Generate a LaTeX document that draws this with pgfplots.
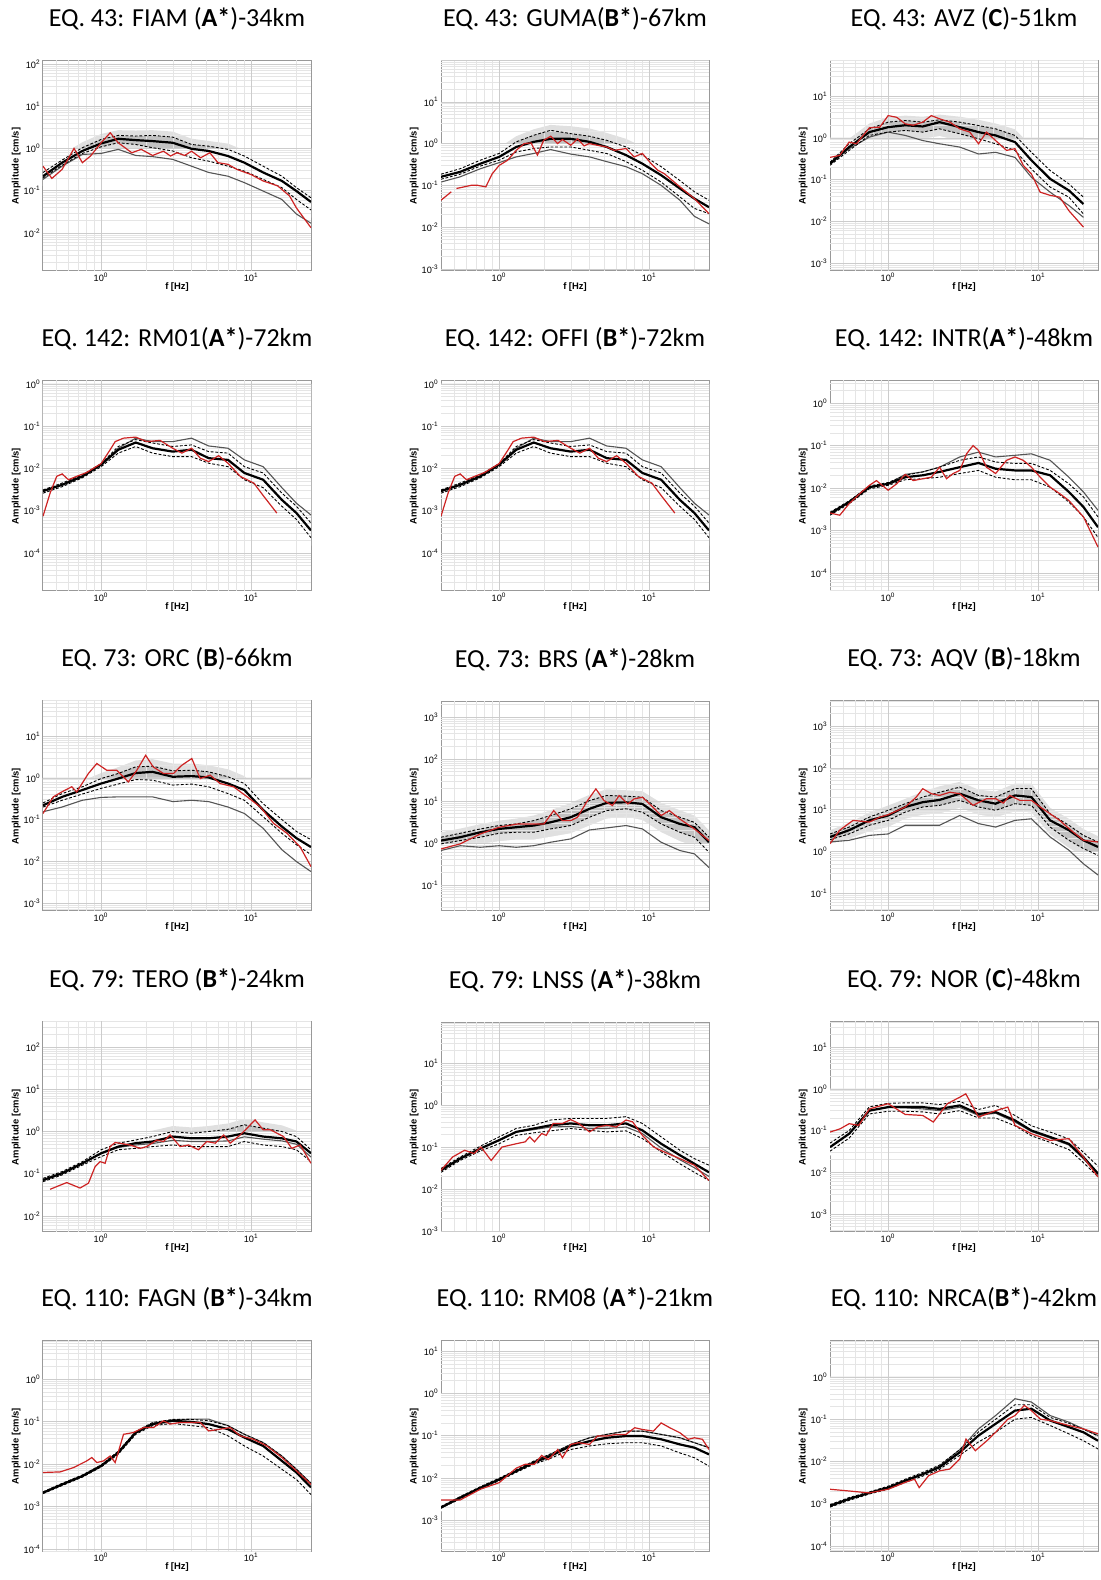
\documentclass[border=0pt]{standalone}
\usepackage{fontspec}
\setmainfont{Carlito}
\newfontfamily\helv{Liberation Sans}
\usepackage{pgfplots}
\usepackage{pgfplotstable}
\pgfplotsset{compat=1.18}
\definecolor{rd}{RGB}{205,35,35}
\definecolor{dg}{RGB}{85,85,85}
\newcommand{\tkf}{\helv\fontsize{4.6}{5.5}\selectfont}
\newcommand{\lbf}{\helv\bfseries\fontsize{4.7}{5.5}\selectfont}
\newcommand{\ttf}{\fontsize{13}{15}\selectfont}
\newcommand{\mytl}{10\textsuperscript{\pgfmathparse{int(round(\tick))}\pgfmathresult}}
\tikzset{
 grl/.style={dg,line width=0.55pt},
 dsh/.style={black,line width=0.45pt,dash pattern=on 1.4pt off 0.9pt},
 mnl/.style={black,line width=1.1pt},
 rdl/.style={rd,line width=0.6pt},
 gmaj/.style={black!20,line width=0.3pt},
 gmin/.style={black!10,line width=0.25pt},
}
\newcommand{\pan}[5]{\begin{axis}[
 xmode=log, ymode=log, log basis x=10, log basis y=10,
 xmin=0.41, xmax=25, ymin=#3, ymax=#4,
 xtick={1,10}, ytick={1e-5,1e-4,0.001,0.01,0.1,1,10,100,1000},
 major tick length=0pt, minor tick length=0pt,
 axis line style={black!40,line width=0.5pt},
 xticklabel={\mytl}, yticklabel={\mytl},
 xticklabel style={font=\tkf,inner sep=1pt},
 yticklabel style={font=\tkf,inner sep=1pt},
 xlabel={f [Hz]}, ylabel={Amplitude [cm/s]},
 xlabel style={at={(axis description cs:0.5,-0.076)},anchor=center,font=\lbf},
 ylabel style={at={(axis description cs:-0.1,0.5)},anchor=center,font=\lbf},
 title style={at={(axis description cs:0.5,1)},anchor=base,yshift=11pt,font=\ttf},
 title={#5},
 scale only axis, width=134pt, height=105pt,
 at={(#1,#2)}, anchor=south west]}
\newcommand{\std}[1]{%
 \addplot[fill=black!12,draw=none] table[x=f,y=bu]{#1} \closedcycle;
 \addplot[fill=black!24,draw=none] table[x=f,y=u]{#1} \closedcycle;
 \addplot[fill=black!12,draw=none] table[x=f,y=l]{#1} \closedcycle;
 \addplot[fill=white,draw=none] table[x=f,y=bl]{#1} \closedcycle;
 \pgfplotsinvokeforeach{2e-5,3e-5,4e-5,5e-5,6e-5,7e-5,8e-5,9e-5,2e-4,3e-4,4e-4,5e-4,6e-4,7e-4,8e-4,9e-4,0.002,0.003,0.004,0.005,0.006,0.007,0.008,0.009,0.02,0.03,0.04,0.05,0.06,0.07,0.08,0.09,0.2,0.3,0.4,0.5,0.6,0.7,0.8,0.9,2,3,4,5,6,7,8,9,20,30,40,50,60,70,80,90,200,300,400,500,600,700,800,900,2000,3000,4000,5000,6000,7000,8000,9000}{\addplot[gmin] coordinates {(0.41,##1) (25,##1)};}
 \pgfplotsinvokeforeach{0.5,0.6,0.7,0.8,0.9,2,3,4,5,6,7,8,9,20}{\addplot[gmin] coordinates {(##1,1e-6) (##1,1e4)};}
 \pgfplotsinvokeforeach{1e-5,1e-4,0.001,0.01,0.1,1,10,100,1000}{\addplot[gmaj] coordinates {(0.41,##1) (25,##1)};}
 \pgfplotsinvokeforeach{1,10}{\addplot[gmaj] coordinates {(##1,1e-6) (##1,1e4)};}
 \addplot[grl] table[x=f,y=g]{#1};
 \addplot[dsh] table[x=f,y=u]{#1};
 \addplot[dsh] table[x=f,y=l]{#1};
 \addplot[mnl] table[x=f,y=m]{#1};
}
\pgfplotstableread{
f m u l g bu bl
0.41 0.22 0.27 0.20 0.185 0.36 0.13
0.55 0.46 0.53 0.40 0.38 0.72 0.27
0.75 0.87 1.04 0.76 0.72 1.4 0.5
1 1.31 1.63 1.09 0.76 2.2 0.73
1.3 1.69 2.03 1.36 0.95 2.7 0.9
1.7 1.57 1.96 1.24 0.68 2.65 0.83
2.2 1.49 2.03 1.04 0.64 2.7 0.7
3 1.36 1.85 0.87 0.55 2.5 0.58
4 0.98 1.24 0.60 0.38 1.7 0.4
5.2 0.87 1.13 0.50 0.27 1.5 0.33
7 0.66 0.95 0.38 0.22 1.3 0.25
9 0.46 0.66 0.29 0.155 0.9 0.19
12 0.27 0.38 0.185 0.098 0.52 0.12
16 0.17 0.22 0.118 0.062 0.3 0.079
20 0.098 0.118 0.062 0.028 0.16 0.041
25 0.054 0.068 0.035 0.017 0.092 0.023
}\tA
\pgfplotstableread{
f m u l g bu bl
0.41 0.16 0.185 0.14 0.12 0.22 0.11
0.55 0.21 0.25 0.185 0.16 0.3 0.15
0.75 0.33 0.40 0.29 0.25 0.5 0.22
1 0.48 0.58 0.40 0.35 0.8 0.3
1.3 0.83 1.1 0.63 0.48 1.5 0.45
1.7 1.1 1.58 0.76 0.58 2.2 0.55
2.2 1.3 2.08 0.83 0.72 2.8 0.6
3 1.3 1.73 0.83 0.56 2.6 0.58
4 1.1 1.5 0.69 0.48 2.3 0.48
5.2 0.83 1.2 0.58 0.37 1.8 0.4
7 0.53 0.83 0.37 0.28 1.3 0.26
9 0.33 0.53 0.23 0.19 0.85 0.16
12 0.175 0.28 0.12 0.10 0.45 0.085
16 0.084 0.13 0.053 0.044 0.2 0.038
20 0.048 0.07 0.028 0.018 0.1 0.019
25 0.030 0.044 0.021 0.012 0.06 0.013
}\tB
\pgfplotstableread{
f m u l g bu bl
0.41 0.24 0.26 0.22 0.24 0.32 0.19
0.55 0.6 0.72 0.5 0.55 0.95 0.38
0.75 1.37 1.64 1.14 1.04 2.2 0.8
1 1.8 2.37 1.37 1.37 3.1 0.95
1.3 2.0 2.6 1.5 1.14 3.4 1.0
1.7 1.87 2.37 1.37 0.86 3.2 0.95
2.2 2.37 2.7 1.64 0.72 3.6 1.1
3 1.8 2.37 1.25 0.6 3.2 0.85
4 1.37 1.97 0.95 0.41 2.7 0.63
5.2 1.14 1.64 0.72 0.45 2.2 0.5
7 0.79 1.14 0.5 0.34 1.6 0.33
9 0.29 0.45 0.18 0.114 0.65 0.12
12 0.104 0.165 0.066 0.05 0.25 0.045
16 0.055 0.079 0.038 0.024 0.12 0.025
20 0.026 0.038 0.015 0.0125 0.06 0.011
}\tC
\pgfplotstableread{
f m u l g bu bl
0.41 0.0029 0.0031 0.0026 0.0029 0.0036 0.0023
0.55 0.0041 0.0045 0.0037 0.0041 0.0052 0.0032
0.75 0.0065 0.007 0.006 0.0065 0.0082 0.0052
1 0.0123 0.013 0.011 0.0123 0.016 0.0092
1.3 0.0276 0.033 0.023 0.03 0.042 0.017
1.7 0.041 0.048 0.033 0.052 0.06 0.024
2.2 0.030 0.04 0.023 0.043 0.05 0.016
3 0.025 0.033 0.019 0.043 0.042 0.013
4 0.0276 0.036 0.019 0.052 0.045 0.013
5.2 0.0175 0.025 0.0133 0.034 0.032 0.009
7 0.0159 0.023 0.011 0.03 0.029 0.0075
9 0.0078 0.011 0.0054 0.0159 0.015 0.0036
12 0.0054 0.0078 0.0035 0.011 0.0105 0.0023
16 0.0018 0.0026 0.00127 0.0035 0.0035 0.0008
20 0.00088 0.00127 0.00062 0.0015 0.0017 0.0004
25 0.00034 0.00051 0.00023 0.00079 0.0007 0.00015
}\tD
\pgfplotstableread{
f m u l g bu bl
0.41 0.0025 0.0027 0.0023 0.0025 0.0031 0.002
0.55 0.0047 0.005 0.0043 0.0047 0.0057 0.0038
0.75 0.0105 0.0112 0.0096 0.0105 0.013 0.0082
1 0.0126 0.0135 0.0116 0.0126 0.016 0.0095
1.3 0.018 0.02 0.0157 0.021 0.025 0.012
1.7 0.02 0.024 0.0166 0.024 0.031 0.012
2.2 0.024 0.031 0.018 0.031 0.04 0.013
3 0.031 0.045 0.022 0.054 0.058 0.015
4 0.039 0.054 0.026 0.07 0.072 0.017
5.2 0.0285 0.041 0.018 0.054 0.055 0.012
7 0.026 0.038 0.0157 0.059 0.052 0.01
9 0.026 0.038 0.0157 0.064 0.052 0.01
12 0.02 0.026 0.0105 0.045 0.036 0.007
16 0.0081 0.0126 0.0047 0.018 0.017 0.003
20 0.0036 0.0062 0.0021 0.0081 0.0085 0.0013
25 0.0012 0.0021 0.00069 0.003 0.003 0.00045
}\tF
\pgfplotstableread{
f m u l g bu bl
0.41 0.22 0.25 0.2 0.154 0.3 0.15
0.55 0.35 0.42 0.29 0.2 0.55 0.2
0.75 0.51 0.61 0.41 0.29 0.85 0.27
1 0.73 0.96 0.56 0.34 1.3 0.37
1.3 0.96 1.27 0.71 0.35 1.8 0.45
1.7 1.3 1.83 0.91 0.35 2.6 0.55
2.2 1.39 1.9 0.88 0.35 2.8 0.55
3 1.06 1.47 0.67 0.27 2.2 0.42
4 1.1 1.52 0.71 0.29 2.2 0.45
5.2 1.02 1.39 0.61 0.27 2.0 0.4
7 0.73 1.06 0.42 0.2 1.6 0.27
9 0.51 0.73 0.29 0.14 1.1 0.18
12 0.17 0.24 0.117 0.062 0.4 0.07
16 0.068 0.1 0.047 0.019 0.17 0.028
20 0.036 0.052 0.025 0.0099 0.085 0.015
25 0.022 0.033 0.0145 0.0057 0.05 0.009
}\tG
\pgfplotstableread{
f m u l g bu bl
0.41 1.14 1.37 0.95 0.66 1.8 0.7
0.55 1.37 1.7 1.14 0.86 2.2 0.8
0.75 1.8 2.16 1.37 0.79 2.8 0.95
1 2.16 2.6 1.7 0.86 3.4 1.1
1.3 2.37 2.84 1.8 0.79 3.8 1.2
1.7 2.6 3.4 1.8 0.86 4.5 1.2
2.2 3.1 4.5 2.16 1.04 6.0 1.4
3 4.1 6.5 2.6 1.25 9.0 1.7
4 6.5 10.2 4.1 2.04 14.0 2.6
5.2 9.0 13.5 5.9 2.28 19.0 3.8
7 9.3 13.0 6.5 2.6 18.0 4.2
9 8.5 12.3 5.4 2.16 17.0 3.5
12 4.1 5.9 2.84 1.04 9.0 1.8
16 2.84 4.1 1.8 0.66 6.0 1.1
20 2.37 3.1 1.37 0.55 4.5 0.85
25 1.04 1.37 0.6 0.26 2.0 0.38
}\tH
\pgfplotstableread{
f m u l g bu bl
0.41 2.2 2.6 1.9 1.67 3.2 1.5
0.55 3.2 3.8 2.6 1.83 4.8 2.0
0.75 5.5 6.6 4.2 2.4 8.5 3.0
1 7.2 9.6 5.5 2.6 12.5 3.8
1.3 11.5 13.8 8.7 4.2 18.0 6.0
1.7 15 19.9 11.5 4.2 27.0 7.5
2.2 17 26 12.6 4.2 36.0 8.0
3 24 34.5 16.6 7.2 46.0 11.0
4 16.6 21.8 11.5 4.6 30.0 7.5
5.2 13.8 19.9 9.6 3.8 27.0 6.5
7 21.8 31.6 13.8 5.5 42.0 9.0
9 19.9 31.6 12.6 6.0 42.0 8.5
12 5.5 7.9 3.8 2.2 11.0 2.5
16 3.2 4.2 1.83 1.06 6.0 1.2
20 1.83 2.4 1.16 0.5 3.4 0.75
25 1.27 1.67 0.8 0.27 2.3 0.5
}\tI
\pgfplotstableread{
f m u l g bu bl
0.41 0.071 0.078 0.065 0.071 0.09 0.058
0.55 0.103 0.113 0.094 0.103 0.13 0.085
0.75 0.177 0.194 0.16 0.177 0.24 0.14
1 0.306 0.37 0.255 0.3 0.48 0.2
1.3 0.44 0.53 0.37 0.42 0.72 0.26
1.7 0.53 0.63 0.4 0.48 0.9 0.28
2.2 0.58 0.76 0.44 0.52 1.05 0.3
3 0.76 1.0 0.48 0.62 1.35 0.32
4 0.69 0.91 0.44 0.58 1.25 0.3
5.2 0.69 1.0 0.44 0.58 1.35 0.3
7 0.76 1.13 0.44 0.6 1.55 0.3
9 0.91 1.44 0.58 0.75 2.0 0.38
12 0.76 1.2 0.48 0.66 1.65 0.32
16 0.69 1.0 0.44 0.6 1.4 0.29
20 0.58 0.76 0.37 0.5 1.05 0.25
25 0.306 0.37 0.194 0.25 0.5 0.13
}\tJ
\pgfplotstableread{
f m u l g bu bl
0.41 0.028 0.031 0.025 0.028 0.036 0.021
0.55 0.053 0.058 0.048 0.053 0.068 0.04
0.75 0.092 0.105 0.081 0.092 0.13 0.065
1 0.146 0.175 0.12 0.146 0.23 0.09
1.3 0.23 0.277 0.19 0.23 0.36 0.14
1.7 0.277 0.33 0.218 0.26 0.45 0.16
2.2 0.33 0.44 0.243 0.3 0.6 0.17
3 0.365 0.48 0.277 0.31 0.65 0.19
4 0.33 0.48 0.25 0.277 0.65 0.17
5.2 0.33 0.48 0.23 0.277 0.65 0.16
7 0.365 0.53 0.243 0.3 0.72 0.17
9 0.25 0.365 0.16 0.21 0.5 0.11
12 0.12 0.175 0.077 0.095 0.25 0.05
16 0.064 0.084 0.04 0.05 0.12 0.026
20 0.04 0.053 0.025 0.032 0.075 0.016
25 0.025 0.037 0.016 0.02 0.05 0.01
}\tK
\pgfplotstableread{
f m u l g bu bl
0.41 0.04 0.05 0.032 0.04 0.065 0.025
0.55 0.084 0.1 0.066 0.084 0.13 0.05
0.75 0.30 0.37 0.25 0.3 0.48 0.19
1 0.365 0.45 0.29 0.36 0.58 0.22
1.3 0.365 0.46 0.29 0.35 0.6 0.22
1.7 0.365 0.46 0.28 0.33 0.6 0.21
2.2 0.33 0.42 0.25 0.3 0.55 0.19
3 0.40 0.5 0.3 0.36 0.65 0.22
4 0.25 0.32 0.2 0.23 0.42 0.15
5.2 0.277 0.4 0.2 0.26 0.52 0.15
7 0.175 0.23 0.13 0.16 0.3 0.1
9 0.10 0.13 0.075 0.095 0.17 0.056
12 0.07 0.092 0.052 0.066 0.12 0.04
16 0.048 0.063 0.035 0.045 0.085 0.026
20 0.023 0.03 0.017 0.021 0.04 0.013
25 0.0093 0.014 0.0078 0.0088 0.019 0.006
}\tL
\pgfplotstableread{
f m u l g bu bl
0.41 0.0021 0.0022 0.002 0.0021 0.0026 0.0017
0.55 0.0033 0.0035 0.0031 0.0033 0.004 0.0027
0.75 0.0052 0.0055 0.0049 0.0052 0.0064 0.0043
1 0.009 0.0095 0.0085 0.009 0.011 0.0072
1.3 0.0185 0.02 0.017 0.0185 0.024 0.014
1.7 0.055 0.058 0.05 0.057 0.068 0.04
2.2 0.087 0.095 0.08 0.09 0.115 0.065
3 0.104 0.112 0.09 0.11 0.14 0.07
4 0.098 0.112 0.08 0.114 0.14 0.062
5.2 0.087 0.105 0.072 0.114 0.135 0.052
7 0.066 0.08 0.046 0.08 0.105 0.033
9 0.042 0.05 0.0266 0.05 0.068 0.019
12 0.0266 0.032 0.0154 0.032 0.044 0.011
16 0.0118 0.0154 0.0075 0.0154 0.021 0.005
20 0.0063 0.0075 0.0043 0.0075 0.011 0.0028
25 0.0028 0.0035 0.0019 0.0035 0.005 0.0012
}\tM
\pgfplotstableread{
f m u l g bu bl
0.41 0.002 0.0021 0.0019 0.002 0.0025 0.0016
0.55 0.0034 0.0036 0.0032 0.0034 0.0042 0.0028
0.75 0.0058 0.0062 0.0054 0.0058 0.0072 0.0047
1 0.0092 0.0098 0.0086 0.0092 0.0115 0.0074
1.3 0.0145 0.0155 0.0135 0.0145 0.019 0.0115
1.7 0.023 0.025 0.021 0.024 0.031 0.017
2.2 0.033 0.037 0.029 0.036 0.046 0.023
3 0.057 0.062 0.047 0.062 0.08 0.035
4 0.074 0.089 0.057 0.089 0.115 0.04
5.2 0.089 0.107 0.064 0.107 0.14 0.045
7 0.098 0.128 0.068 0.128 0.165 0.047
9 0.098 0.128 0.068 0.128 0.165 0.045
12 0.082 0.107 0.057 0.107 0.14 0.037
16 0.062 0.089 0.039 0.089 0.115 0.025
20 0.052 0.068 0.03 0.068 0.09 0.019
25 0.036 0.052 0.019 0.052 0.07 0.012
}\tN
\pgfplotstableread{
f m u l g bu bl
0.41 0.00089 0.00095 0.00083 0.00089 0.0011 0.0007
0.55 0.0013 0.0014 0.0012 0.0013 0.0016 0.001
0.75 0.0018 0.0019 0.0017 0.0018 0.0022 0.0015
1 0.0024 0.0026 0.0022 0.0024 0.003 0.002
1.3 0.0035 0.0038 0.0032 0.0035 0.0044 0.0028
1.7 0.005 0.0055 0.0045 0.005 0.0065 0.0038
2.2 0.0073 0.0082 0.0065 0.0078 0.0098 0.0052
3 0.0165 0.019 0.014 0.019 0.024 0.011
4 0.041 0.05 0.029 0.059 0.07 0.021
5.2 0.078 0.1 0.049 0.122 0.14 0.035
7 0.16 0.22 0.1 0.305 0.35 0.07
9 0.177 0.22 0.11 0.255 0.32 0.08
12 0.093 0.11 0.071 0.122 0.16 0.05
16 0.065 0.08 0.045 0.085 0.11 0.032
20 0.049 0.058 0.031 0.059 0.08 0.022
25 0.031 0.04 0.0198 0.041 0.055 0.014
}\tO
\begin{document}
\begin{tikzpicture}
\useasboundingbox (0,0) rectangle (550pt,790pt);
% Row 1
\pan{21.5pt}{654.5pt}{1.26e-3}{117}{EQ. 43: FIAM (\textbf{A*})-34km}
\std{\tA}
\addplot[rdl] coordinates {(0.41,0.38) (0.47,0.195) (0.55,0.32) (0.66,1.0) (0.75,0.46) (0.85,0.66) (1.0,1.36) (1.15,2.35) (1.3,1.36) (1.6,0.79) (1.85,0.95) (2.2,0.68) (2.6,0.86) (2.9,0.66) (3.2,0.79) (3.6,0.68) (4.0,0.86) (4.6,0.6) (5.3,0.79) (6,0.46) (7,0.42) (8,0.32) (10,0.24) (12,0.17) (15,0.13) (18,0.075) (20,0.039) (25,0.0133)};
\end{axis}
\pan{220.5pt}{654.5pt}{8.9e-4}{95}{EQ. 43: GUMA(\textbf{B*})-67km}
\std{\tB}
\addplot[rdl] coordinates {(0.41,0.044) (0.48,0.07)};
\addplot[rdl] coordinates {(0.52,0.084) (0.65,0.1) (0.72,0.1) (0.815,0.092) (0.9,0.19) (1.0,0.3) (1.14,0.4) (1.3,0.69) (1.47,1.0) (1.63,1.04) (1.8,0.53) (1.98,1.2) (2.21,1.5) (2.45,1.0) (2.64,1.25) (3.0,0.91) (3.33,1.3) (3.68,0.88) (3.98,1.0) (4.52,0.91) (5.2,0.83) (5.84,0.69) (7.0,0.76) (7.94,0.48) (9,0.58) (10.3,0.33) (11.4,0.23) (12.6,0.19) (16,0.092) (20,0.048) (25,0.021)};
\end{axis}
\pan{415pt}{654.5pt}{6.5e-4}{69}{EQ. 43: AVZ (\textbf{C})-51km}
\std{\tC}
\addplot[rdl] coordinates {(0.41,0.34) (0.476,0.38) (0.55,0.79) (0.615,0.72) (0.75,1.74) (0.88,1.8) (1.0,3.4) (1.14,3.1) (1.3,2.16) (1.47,2.0) (1.7,2.37) (1.94,3.4) (2.2,2.85) (2.58,2.37) (3.0,1.64) (3.5,1.37) (4.0,0.72) (4.52,1.37) (5.2,0.86) (6.15,0.5) (7.0,0.55) (7.94,0.22) (9.0,0.137) (10.3,0.05) (12,0.042) (13.9,0.038) (16,0.018) (20,0.0073)};
\end{axis}
% Row 2
\pan{21.5pt}{494.5pt}{1.26e-5}{1.17}{EQ. 142: RM01(\textbf{A*})-72km}
\std{\tD}
\addplot[rdl] coordinates {(0.41,0.00074) (0.457,0.0026) (0.506,0.0065) (0.55,0.0074) (0.606,0.0054) (0.688,0.0065) (0.80,0.008) (1.0,0.013) (1.148,0.0276) (1.24,0.043) (1.41,0.052) (1.7,0.055) (2.01,0.043) (2.47,0.046) (3.0,0.03) (3.45,0.023) (4.0,0.03) (4.57,0.0175) (5.2,0.0145) (6.06,0.02) (7.0,0.0133) (8.44,0.0065) (10.4,0.0045) (12.1,0.0022) (14.8,0.00088)};
\end{axis}
\pan{220.5pt}{494.5pt}{1.26e-5}{1.17}{EQ. 142: OFFI (\textbf{B*})-72km}
\std{\tD}
\addplot[rdl] coordinates {(0.41,0.00074) (0.457,0.0026) (0.506,0.0065) (0.55,0.0074) (0.606,0.0054) (0.688,0.0065) (0.80,0.008) (1.0,0.013) (1.148,0.0276) (1.24,0.043) (1.41,0.052) (1.7,0.055) (2.01,0.043) (2.47,0.046) (3.0,0.03) (3.45,0.023) (4.0,0.03) (4.57,0.0175) (5.2,0.0145) (6.06,0.02) (7.0,0.0133) (8.44,0.0065) (10.4,0.0045) (12.1,0.0022) (14.8,0.00088)};
\end{axis}
\pan{415pt}{494.5pt}{3.8e-5}{3.3}{EQ. 142: INTR(\textbf{A*})-48km}
\std{\tF}
\addplot[rdl] coordinates {(0.41,0.0026) (0.476,0.0023) (0.55,0.0043) (0.647,0.0074) (0.75,0.0116) (0.836,0.015) (1.0,0.0089) (1.14,0.0126) (1.3,0.021) (1.47,0.015) (1.7,0.0166) (1.94,0.018) (2.2,0.031) (2.45,0.0166) (2.71,0.022) (3.0,0.026) (3.33,0.064) (3.68,0.1) (4.0,0.077) (4.52,0.031) (5.2,0.022) (6.15,0.045) (7.0,0.054) (7.94,0.045) (9.0,0.031) (10.3,0.018) (12,0.0105) (13.9,0.0074) (16,0.0051) (20,0.0021) (25,0.00041)};
\end{axis}
% Row 3
\pan{21.5pt}{334.5pt}{6.5e-4}{69}{EQ. 73: ORC (\textbf{B})-66km}
\std{\tG}
\addplot[rdl] coordinates {(0.41,0.14) (0.48,0.35) (0.547,0.46) (0.637,0.61) (0.688,0.46) (0.823,1.27) (0.936,2.2) (1.09,1.52) (1.27,1.52) (1.52,0.8) (1.73,1.52) (1.98,3.47) (2.22,1.83) (2.6,1.27) (3.03,1.27) (3.45,2.0) (4.02,2.9) (4.57,0.96) (5.32,1.16) (6.2,0.73) (7.63,0.61) (9.4,0.35) (11.5,0.2) (14.1,0.081) (17.3,0.047) (21.2,0.022) (25,0.0075)};
\end{axis}
\pan{220.5pt}{334.5pt}{0.024}{2400}{EQ. 73: BRS (\textbf{A*})-28km}
\std{\tH}
\addplot[rdl] coordinates {(0.41,0.72) (0.55,0.95) (0.75,1.64) (1.0,2.37) (1.33,2.84) (1.7,2.84) (1.99,2.84) (2.31,5.9) (2.64,3.4) (3.0,3.4) (3.33,4.1) (3.88,10.2) (4.41,19.4) (5.0,10.2) (5.69,7.8) (6.3,13.5) (7.2,8.5) (7.94,11.2) (9.0,12.3) (10.3,7.8) (12,4.5) (13.6,5.9) (16,3.7) (20,2.16) (25,1.14)};
\end{axis}
\pan{415pt}{334.5pt}{0.037}{4000}{EQ. 73: AQV (\textbf{B})-18km}
\std{\tI}
\addplot[rdl] coordinates {(0.41,1.52) (0.476,3.2) (0.584,5.5) (0.75,5.0) (0.88,6.6) (1.0,7.5) (1.3,11.5) (1.54,19.9) (1.7,31.6) (1.94,24) (2.2,21.8) (2.58,26) (3.0,24) (3.68,12.6) (4.52,18.2) (5.2,18.2) (5.85,14.3) (6.47,21.8) (7.54,16.6) (9.0,16.6) (10.3,11.5) (12,7.9) (13.9,5.5) (16,3.5) (20,1.83) (25,1.67)};
\end{axis}
% Row 4
\pan{21.5pt}{174pt}{4.2e-3}{390}{EQ. 79: TERO (\textbf{B*})-24km}
\std{\tJ}
\addplot[rdl] coordinates {(0.457,0.043) (0.59,0.062) (0.724,0.046) (0.823,0.06) (0.912,0.148) (0.985,0.194) (1.063,0.177) (1.148,0.44) (1.24,0.55) (1.56,0.48) (1.82,0.4) (2.01,0.44) (2.35,0.63) (2.6,0.58) (2.88,0.83) (3.36,0.44) (3.82,0.48) (4.45,0.37) (5.06,0.58) (5.76,0.53) (6.55,0.83) (7.24,0.53) (8.44,0.83) (9.6,1.31) (10.6,1.89) (12.0,1.1) (13.4,1.1) (16.4,0.76) (18.6,0.4) (21.2,0.48) (25,0.177)};
\end{axis}
\pan{220.5pt}{174pt}{9.5e-4}{95}{EQ. 79: LNSS (\textbf{A*})-38km}
\std{\tK}
\addplot[rdl] coordinates {(0.41,0.028) (0.49,0.058) (0.589,0.084) (0.68,0.07) (0.757,0.1) (0.885,0.048) (1.044,0.1) (1.3,0.12) (1.49,0.133) (1.6,0.175) (1.72,0.133) (1.92,0.21) (2.06,0.19) (2.29,0.365) (2.64,0.365) (3.0,0.45) (3.39,0.365) (4.0,0.23) (4.52,0.3) (5.2,0.33) (6.02,0.3) (7.0,0.44) (7.74,0.4) (9.0,0.19) (10.7,0.1) (13.3,0.07) (16,0.053) (20,0.037) (25,0.016)};
\end{axis}
\pan{415pt}{174pt}{3.7e-4}{40}{EQ. 79: NOR (\textbf{C})-48km}
\std{\tL}
\addplot[rdl] coordinates {(0.41,0.092) (0.479,0.11) (0.55,0.146) (0.637,0.133) (0.75,0.33) (1.0,0.44) (1.3,0.243) (1.7,0.23) (2.0,0.16) (2.48,0.44) (3.0,0.63) (3.29,0.76) (4.0,0.21) (5.2,0.3) (6.27,0.365) (7.0,0.133) (9.0,0.084) (12,0.058) (16,0.064) (20,0.023) (25,0.0077)};
\end{axis}
% Row 5
\pan{21.5pt}{14.5pt}{8.9e-5}{7.9}{EQ. 110: FAGN (\textbf{B*})-34km}
\std{\tM}
\addplot[rdl] coordinates {(0.41,0.0063) (0.533,0.0065) (0.654,0.0082) (0.802,0.0118) (0.867,0.0142) (0.936,0.0108) (1.036,0.0118) (1.148,0.0154) (1.24,0.0108) (1.41,0.05) (1.64,0.055) (1.92,0.072) (2.23,0.072) (2.6,0.104) (2.88,0.087) (3.36,0.095) (4.0,0.095) (4.57,0.095) (5.2,0.06) (6.2,0.066) (7.24,0.072) (8.44,0.046) (10.4,0.038) (12.7,0.0266) (16,0.0142) (20,0.0069) (25,0.0033)};
\end{axis}
\pan{220.5pt}{14.5pt}{1.86e-4}{17.4}{EQ. 110: RM08 (\textbf{A*})-21km}
\std{\tN}
\addplot[rdl] coordinates {(0.41,0.003) (0.55,0.003) (0.75,0.0054) (1.0,0.0077) (1.3,0.017) (1.49,0.021) (1.72,0.021) (1.92,0.034) (2.13,0.027) (2.46,0.047) (2.64,0.03) (3.0,0.062) (3.39,0.068) (4.0,0.062) (4.52,0.098) (5.2,0.098) (6.02,0.107) (7.0,0.107) (8.0,0.154) (9.0,0.14) (10.66,0.128) (12,0.2) (13.7,0.154) (16,0.117) (18.2,0.082) (20,0.089) (22.6,0.082) (25,0.047)};
\end{axis}
\pan{415pt}{14.5pt}{7.6e-5}{7.1}{EQ. 110: NRCA(\textbf{B*})-42km}
\std{\tO}
\addplot[rdl] coordinates {(0.41,0.0022) (0.55,0.002) (0.75,0.0018) (1.0,0.0022) (1.3,0.0032) (1.5,0.0038) (1.61,0.0024) (1.86,0.0046) (2.2,0.006) (2.57,0.0066) (3.0,0.0115) (3.3,0.034) (3.81,0.018) (4.55,0.031) (5.2,0.049) (6.27,0.1) (7.0,0.122) (8.07,0.212) (9.0,0.16) (10.34,0.1) (12,0.093) (16,0.071) (20,0.059) (25,0.045)};
\end{axis}
\end{tikzpicture}
\end{document}
